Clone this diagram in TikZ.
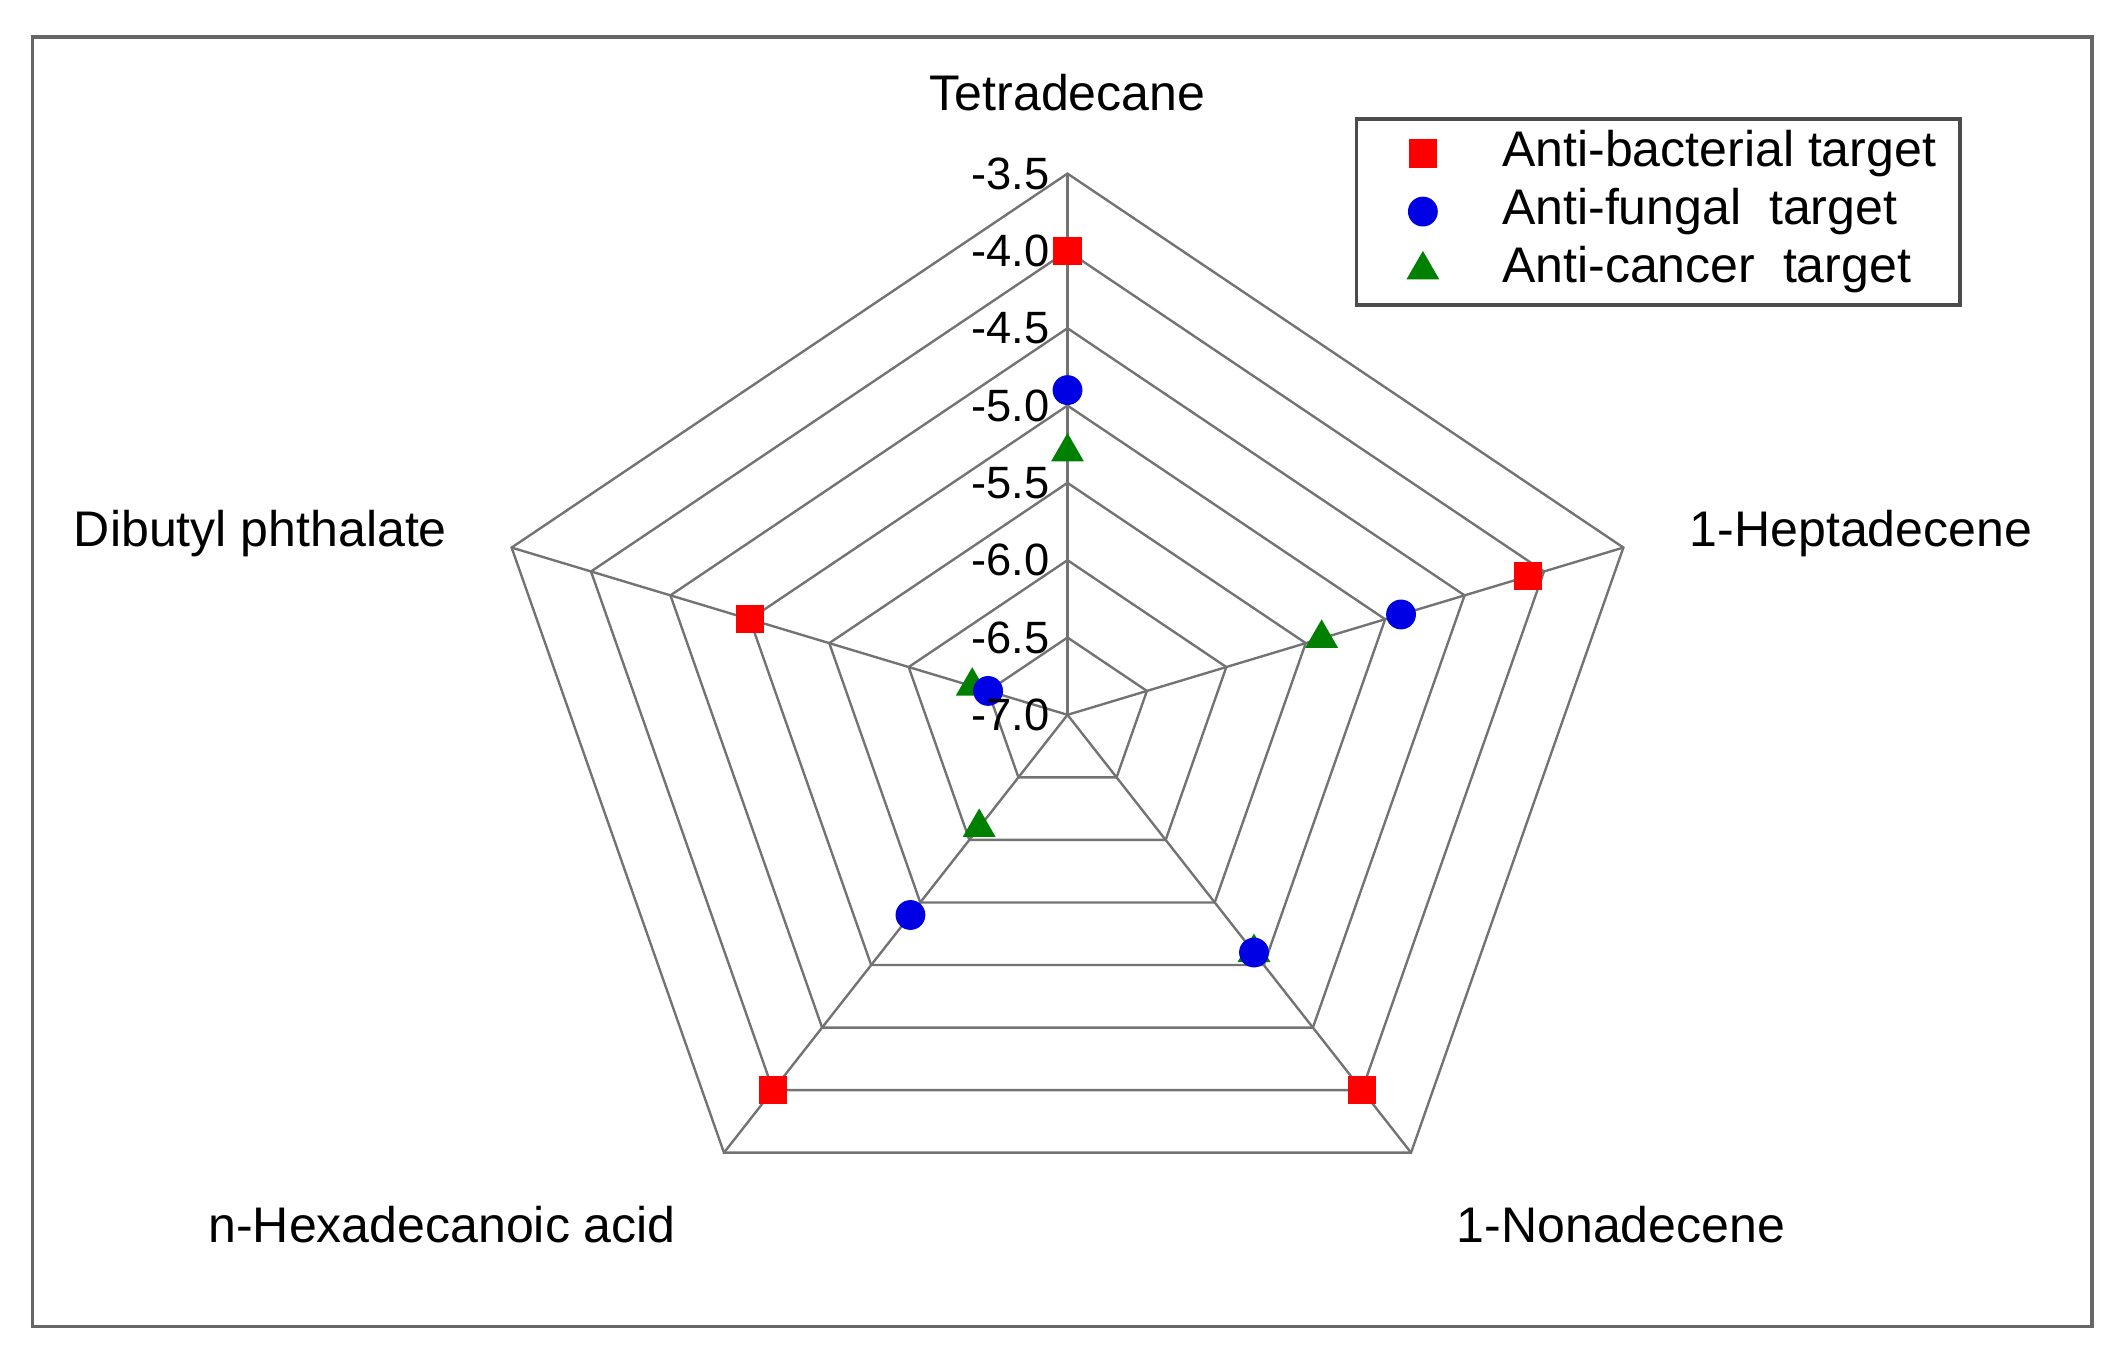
\documentclass[tikz,border=0pt]{standalone}
\usepackage{fontspec}
\setmainfont{Liberation Sans}
\usetikzlibrary{shapes.geometric}
\begin{document}
\begin{tikzpicture}[x=0.1mm,y=-0.1mm,
  grid/.style={draw=black!55,line width=0.5pt},
  lbl/.style={font=\fontsize{10.5}{12}\selectfont},
  tick/.style={font=\fontsize{9.5}{11}\selectfont,anchor=east,inner sep=1pt},
  redm/.style={fill=red,draw=none,minimum size=2.1mm,inner sep=0pt,rectangle},
  bluem/.style={fill=blue!90!black,draw=none,minimum size=2.2mm,inner sep=0pt,circle},
  greenm/.style={fill=green!50!black,draw=none,regular polygon,regular polygon sides=3,minimum size=2.8mm,inner sep=0pt}]
\useasboundingbox (0,0) rectangle (1560,1010);
\draw[black!60,line width=0.8pt] (24,27) rectangle (1542,978);
\coordinate (c) at (787,527);
\begin{scope}[shift={(787,527)},x=0.108mm,y=0.1mm]
\foreach \k in {1,...,7}{
  \draw[grid] (90:57*\k) -- (18:57*\k) -- (-54:57*\k) -- (-126:57*\k) -- (162:57*\k) -- cycle;
}
\foreach \a/\n in {90/1,18/2,-54/3,-126/4,162/5}{
  \coordinate (v\n) at (\a:399);
  \draw[grid] (c) -- (v\n);
}
\foreach \a/\vr/\vb/\vg [count=\j] in {90/-4.0/-4.9/-5.3, 18/-4.1/-4.9/-5.4, -54/-4.0/-5.1/-5.1, -126/-4.0/-5.4/-6.1, 162/-5.0/-6.5/-6.4}{
  \node[redm] (r\j) at (\a:{(\vr+7)*114}) {};
  \node[greenm] (g\j) at (\a:{(\vg+7)*114}) {};
  \node[bluem] (b\j) at (\a:{(\vb+7)*114}) {};
}
\end{scope}
\foreach \v [count=\i from 0] in {-7.0,-6.5,-6.0,-5.5,-5.0,-4.5,-4.0,-3.5}{
  \node[tick] (t\i) at (778,{527-57*\i}) {\v};
}
\node[lbl] (l1) at (787,68) {Tetradecane};
\node[lbl] (l2) at (1372,393) {1-Heptadecene};
\node[lbl] (l3) at (1195,903) {1-Nonadecene};
\node[lbl] (l4) at (326,903) {n-Hexadecanoic acid};
\node[lbl] (l5) at (192,393) {Dibutyl phthalate};
\draw[black!70,line width=0.8pt] (1000,88) rectangle (1445,225);
\node[redm] (lr) at (1049,113) {};
\node[bluem] (lb) at (1049,156) {};
\node[greenm] (lg) at (1049,199) {};
\node[lbl,anchor=west] (tr) at (1095,113) {Anti-bacterial target};
\node[lbl,anchor=west] (tb) at (1095,156) {Anti-fungal\ \ target};
\node[lbl,anchor=west] (tg) at (1095,199) {Anti-cancer\ \ target};
\end{tikzpicture}
\end{document}
